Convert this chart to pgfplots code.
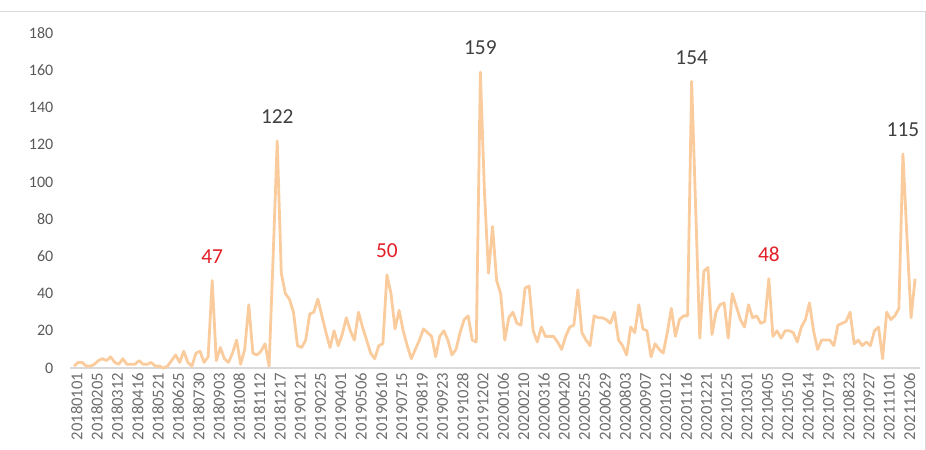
\documentclass[border=0pt]{standalone}
\usepackage{fontspec}
\setmainfont{Carlito}
\usepackage{pgfplots}
\pgfplotsset{compat=1.18}
\definecolor{linepeach}{RGB}{250,203,156}
\definecolor{tickgray}{RGB}{89,89,89}
\definecolor{xgray}{RGB}{110,110,110}
\definecolor{axisgray}{RGB}{217,217,217}
\definecolor{labdark}{RGB}{64,64,64}
\definecolor{labred}{RGB}{226,30,38}

% weekly counts, week index 0 = 20180101
\pgfplotstableread{
i v
0 1
1 3
2 3
3 1
4 1
5 2
6 4
7 5
8 4
9 6
10 3
11 2
12 5
13 2
14 2
15 2
16 4
17 2
18 2
19 3
20 1
21 1
22 0
23 1
24 4
25 7
26 3
27 9
28 3
29 1
30 8
31 9
32 3
33 6
34 47
35 4
36 11
37 5
38 3
39 8
40 15
41 2
42 10
43 34
44 8
45 7
46 9
47 13
48 1
49 60
50 122
51 51
52 40
53 37
54 30
55 12
56 11
57 15
58 29
59 30
60 37
61 28
62 19
63 11
64 20
65 12
66 18
67 27
68 20
69 15
70 30
71 22
72 15
73 8
74 5
75 12
76 13
77 50
78 40
79 21
80 31
81 20
82 12
83 5
84 10
85 15
86 21
87 19
88 17
89 6
90 17
91 20
92 15
93 7
94 10
95 19
96 26
97 28
98 15
99 14
100 159
101 95
102 51
103 76
104 47
105 40
106 15
107 27
108 30
109 24
110 23
111 43
112 44
113 20
114 14
115 22
116 17
117 17
118 17
119 14
120 10
121 17
122 22
123 23
124 42
125 19
126 15
127 12
128 28
129 27
130 27
131 26
132 24
133 30
134 15
135 12
136 7
137 22
138 19
139 34
140 21
141 20
142 6
143 13
144 10
145 8
146 19
147 32
148 17
149 26
150 28
151 28
152 154
153 85
154 16
155 52
156 54
157 18
158 30
159 34
160 35
161 16
162 40
163 33
164 26
165 22
166 34
167 27
168 28
169 24
170 25
171 48
172 17
173 20
174 16
175 20
176 20
177 19
178 14
179 22
180 26
181 35
182 20
183 10
184 15
185 15
186 15
187 12
188 23
189 24
190 25
191 30
192 13
193 15
194 12
195 14
196 12
197 20
198 22
199 5
200 30
201 26
202 28
203 32
204 115
205 70
206 27
207 48
}\weekly

\begin{document}
\begin{tikzpicture}
\path[use as bounding box] (0,0) rectangle (694.5pt,337.5pt);
\draw[axisgray, line width=0.6pt] (0,329.25pt) -- (693.9pt,329.25pt) -- (693.9pt,0);
\begin{axis}[
    at={(52.5pt,61.5pt)}, anchor=south west,
    scale only axis,
    width=637.5pt, height=251.25pt,
    xmin=-1, xmax=208.2,
    ymin=0, ymax=180,
    ytick={0,20,...,180},
    xtick={0,5,...,205},
    xticklabels={20180101,20180205,20180312,20180416,20180521,20180625,20180730,20180903,20181008,20181112,20181217,20190121,20190225,20190401,20190506,20190610,20190715,20190819,20190923,20191028,20191202,20200106,20200210,20200316,20200420,20200525,20200629,20200803,20200907,20201012,20201116,20201221,20210125,20210301,20210405,20210510,20210614,20210719,20210823,20210927,20211101,20211206},
    axis x line*=bottom, axis y line*=left,
    x axis line style={-, draw=axisgray, line width=0.8pt},
    y axis line style={draw=none},
    major tick length=0pt,
    /pgf/number format/assume math mode=true,
    yticklabel style={font=\fontsize{12}{14}\selectfont, text=tickgray, xshift=-9pt},
    xticklabel style={font=\fontsize{12.5}{14}\selectfont, text=xgray, rotate=90, anchor=east, yshift=-2pt},
    clip=false,
]
\addplot[linepeach, line width=2.1pt, line join=round, mark=none] table[x=i, y=v] {\weekly};
\addplot[draw=none, mark=none, nodes near coords, point meta=explicit symbolic,
    every node near coord/.append style={font=\fontsize{16}{18}\selectfont, text=labdark, anchor=center, yshift=18pt}]
    coordinates {(50,122)[122] (100,159)[159] (152,154)[154] (204,115)[115]};
\addplot[draw=none, mark=none, nodes near coords, point meta=explicit symbolic,
    every node near coord/.append style={font=\fontsize{16}{18}\selectfont, text=labred, anchor=center, yshift=18pt}]
    coordinates {(34,47)[47] (77,50)[50] (171,48)[48]};
\end{axis}
\end{tikzpicture}
\end{document}
